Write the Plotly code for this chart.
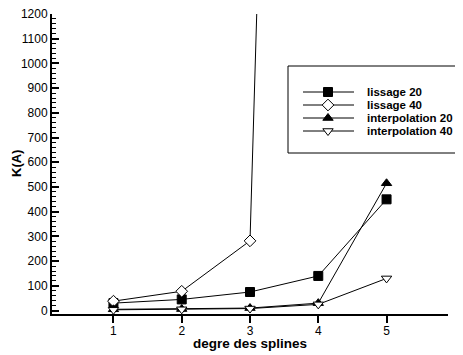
import plotly.graph_objects as go

# --- data ---
degres = [1, 2, 3, 4, 5]
lissage_20 = [30, 45, 75, 140, 450]
lissage_40 = [38, 78, 282, 9600]
interpolation_20 = [5, 6, 10, 30, 515]
interpolation_40 = [3, 5, 8, 25, 130]

series_names = ['lissage 20', 'lissage 40', 'interpolation 20', 'interpolation 40']
x_ticks = [1, 2, 3, 4, 5]

FONT = 'Liberation Sans, Arial, sans-serif'
OFF = 8  # page body margin
W, H = 463 - OFF, 355 - OFF
# plot area in window pixels
PX0, PX1, PY0, PY1 = 52, 448, 14, 314
L, R, T, B = PX0 - OFF, W - (PX1 - OFF), PY0 - OFF, H - (PY1 - OFF)

styles = {
    'lissage 20': dict(symbol='square', size=9, color='black', line=dict(color='black', width=1)),
    'lissage 40': dict(symbol='diamond', size=9, color='white', line=dict(color='black', width=1)),
    'interpolation 20': dict(symbol='triangle-up', size=9, color='black', line=dict(color='black', width=1)),
    'interpolation 40': dict(symbol='triangle-down', size=9, color='white', line=dict(color='black', width=1)),
}
values = {
    'lissage 20': lissage_20,
    'lissage 40': lissage_40,
    'interpolation 20': interpolation_20,
    'interpolation 40': interpolation_40,
}

fig = go.Figure()

for name in series_names:
    ys = values[name]
    fig.add_trace(go.Scatter(
        x=degres[:len(ys)], y=ys, mode='lines+markers', name=name,
        line=dict(color='black', width=1), marker=styles[name],
        cliponaxis=True, showlegend=False,
    ))

# window pixel -> paper helpers for the hand-made legend
def px(x):
    return (x - PX0) / (PX1 - PX0)
def py(y):
    return (PY1 - y) / (PY1 - PY0)

# legend samples on an overlay axis
row_y = [92, 105, 118, 131]
for name, yy in zip(series_names, row_y):
    fig.add_trace(go.Scatter(
        x=[px(303), px(354)], y=[py(yy), py(yy)], mode='lines',
        line=dict(color='black', width=1), xaxis='x2', yaxis='y2',
        showlegend=False, hoverinfo='skip',
    ))
    fig.add_trace(go.Scatter(
        x=[px(328)], y=[py(yy)], mode='markers', marker=styles[name],
        xaxis='x2', yaxis='y2', showlegend=False, hoverinfo='skip',
    ))
    fig.add_annotation(x=px(365), y=py(yy), xref='paper', yref='paper',
                       text='<b>%s</b>' % name, showarrow=False,
                       xanchor='left', yanchor='middle',
                       font=dict(family=FONT, size=11.5, color='black'))

fig.add_shape(type='rect', xref='paper', yref='paper',
              x0=px(288), x1=px(475), y0=py(153), y1=py(66),
              line=dict(color='black', width=1), fillcolor='rgba(0,0,0,0)')

# axis titles
fig.add_annotation(x=px(250), y=py(343), xref='paper', yref='paper',
                   text='<b>degre des splines</b>', showarrow=False,
                   xanchor='center', yanchor='middle',
                   font=dict(family=FONT, size=13.5, color='black'))
fig.add_annotation(x=px(16), y=py(164), xref='paper', yref='paper',
                   text='<b>K(A)</b>', showarrow=False, textangle=-90,
                   xanchor='center', yanchor='middle', borderpad=0,
                   font=dict(family=FONT, size=13, color='black'))

fig.update_layout(
    width=W, height=H,
    margin=dict(l=L, r=R, t=T, b=B, pad=0),
    paper_bgcolor='white', plot_bgcolor='white',
    showlegend=False,
    font=dict(family=FONT, size=12, color='black'),
    xaxis=dict(
        range=[0.1, 5.9], tickvals=x_ticks, ticks='outside', ticklen=7,
        tickwidth=2, tickcolor='black', showline=True, linewidth=2,
        linecolor='black', showgrid=False, zeroline=False,
        ticklabeloverflow='allow', ticklabelstandoff=-2,
        tickfont=dict(family=FONT, size=12, color='black'), automargin=False,
    ),
    yaxis=dict(
        range=[-14, 1200], dtick=100, tick0=0, ticks='inside', ticklen=7,
        tickwidth=2, tickcolor='black', showline=True, linewidth=2,
        linecolor='black', showgrid=False, zeroline=False,
        ticklabeloverflow='allow',
        minor=dict(ticks='inside', ticklen=3.5, dtick=20, tickwidth=1,
                   tickcolor='black', showgrid=False),
        tickfont=dict(family=FONT, size=12, color='black'), automargin=False,
    ),
    xaxis2=dict(overlaying='x', range=[0, 1], visible=False, fixedrange=True),
    yaxis2=dict(overlaying='y', range=[0, 1], visible=False, fixedrange=True),
)

fig.write_html('out.html')
